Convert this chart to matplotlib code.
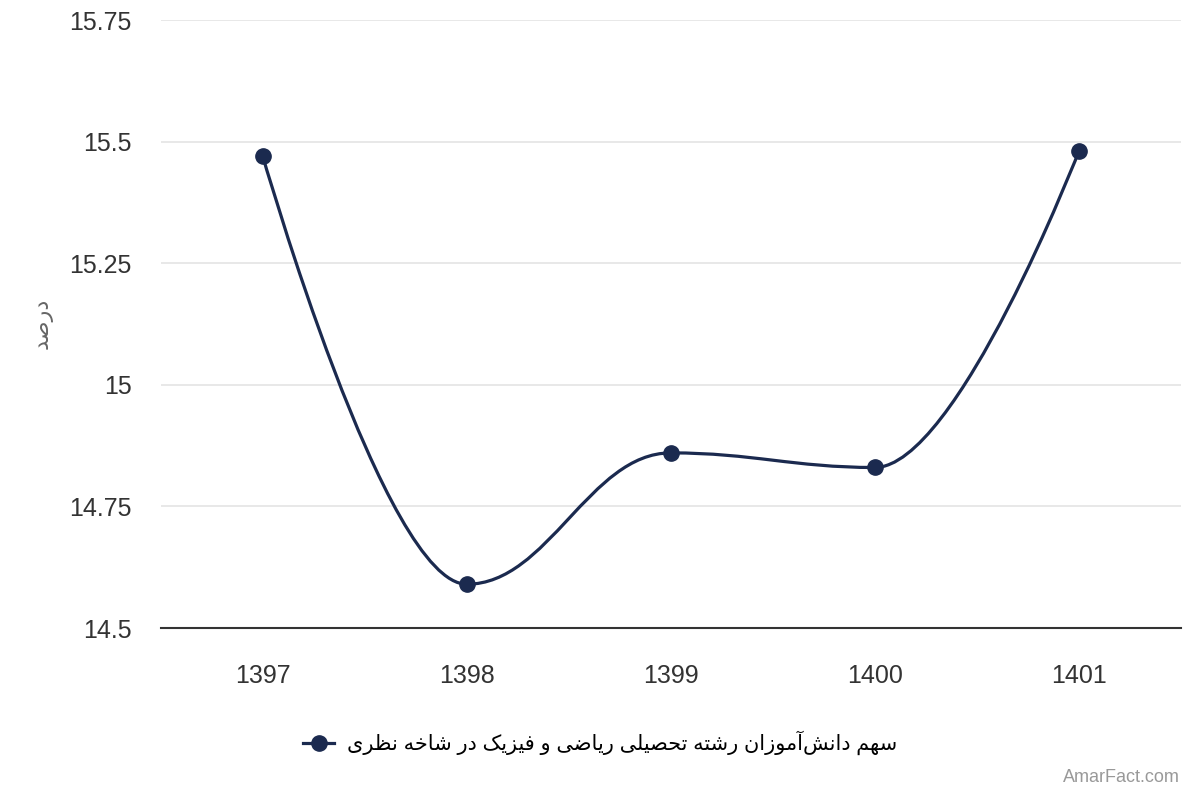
import matplotlib
matplotlib.use("Agg")
import matplotlib.pyplot as plt
from matplotlib.path import Path
from matplotlib.patches import PathPatch
from matplotlib.lines import Line2D

years = ["1397", "1398", "1399", "1400", "1401"]
share = [15.47, 14.59, 14.86, 14.83, 15.48]
y_ticks = [14.5, 14.75, 15, 15.25, 15.5, 15.75]
y_tick_labels = ["14.5", "14.75", "15", "15.25", "15.5", "15.75"]
series_name = "سهم دانش\u200cآموزان رشته تحصیلی ریاضی و فیزیک در شاخه نظری"
y_title = "درصد"
credit = "AmarFact.com"

LINE = "#1b2a4f"

# simple persian shaping: contextual forms + visual (reversed) order
FORMS = {
    "ا": ("\uFE8D", "\uFE8E", None, None),
    "آ": ("\uFE81", "\uFE82", None, None),
    "د": ("\uFEA9", "\uFEAA", None, None),
    "ر": ("\uFEAD", "\uFEAE", None, None),
    "ز": ("\uFEAF", "\uFEB0", None, None),
    "و": ("\uFEED", "\uFEEE", None, None),
    "س": ("\uFEB1", "\uFEB2", "\uFEB3", "\uFEB4"),
    "ش": ("\uFEB5", "\uFEB6", "\uFEB7", "\uFEB8"),
    "ص": ("\uFEB9", "\uFEBA", "\uFEBB", "\uFEBC"),
    "ض": ("\uFEBD", "\uFEBE", "\uFEBF", "\uFEC0"),
    "ظ": ("\uFEC5", "\uFEC6", "\uFEC7", "\uFEC8"),
    "ه": ("\uFEE9", "\uFEEA", "\uFEEB", "\uFEEC"),
    "م": ("\uFEE1", "\uFEE2", "\uFEE3", "\uFEE4"),
    "ن": ("\uFEE5", "\uFEE6", "\uFEE7", "\uFEE8"),
    "ت": ("\uFE95", "\uFE96", "\uFE97", "\uFE98"),
    "ح": ("\uFEA1", "\uFEA2", "\uFEA3", "\uFEA4"),
    "خ": ("\uFEA5", "\uFEA6", "\uFEA7", "\uFEA8"),
    "ل": ("\uFEDD", "\uFEDE", "\uFEDF", "\uFEE0"),
    "ف": ("\uFED1", "\uFED2", "\uFED3", "\uFED4"),
    "ی": ("\uFBFC", "\uFBFD", "\uFBFE", "\uFBFF"),
    "ک": ("\uFB8E", "\uFB8F", "\uFB90", "\uFB91"),
}


def shape(text):
    out = []
    for i, ch in enumerate(text):
        if ch not in FORMS:
            if ch != "\u200c":
                out.append(ch)
            continue
        prev = text[i - 1] if i > 0 else ""
        nxt = text[i + 1] if i + 1 < len(text) else ""
        join_prev = prev in FORMS and FORMS[prev][2] is not None
        join_next = nxt in FORMS and FORMS[ch][2] is not None
        iso, fin, ini, med = FORMS[ch]
        if join_prev and join_next:
            out.append(med)
        elif join_prev:
            out.append(fin)
        elif join_next:
            out.append(ini)
        else:
            out.append(iso)
    return "".join(out)[::-1]


def spline_path(xs, ys):
    # highcharts-like spline
    sm = 1.5
    den = sm + 1
    n = len(xs)
    lc = [None] * n
    rc = [None] * n
    for i in range(1, n - 1):
        px, py = xs[i], ys[i]
        lx, ly = xs[i - 1], ys[i - 1]
        nx, ny = xs[i + 1], ys[i + 1]
        lcx = (sm * px + lx) / den
        lcy = (sm * py + ly) / den
        rcx = (sm * px + nx) / den
        rcy = (sm * py + ny) / den
        corr = (rcy - lcy) * (rcx - px) / (rcx - lcx) + py - rcy
        lcy += corr
        rcy += corr
        if lcy > ly and lcy > py:
            lcy = max(ly, py)
            rcy = 2 * py - lcy
        elif lcy < ly and lcy < py:
            lcy = min(ly, py)
            rcy = 2 * py - lcy
        if rcy > ny and rcy > py:
            rcy = max(ny, py)
            lcy = 2 * py - rcy
        elif rcy < ny and rcy < py:
            rcy = min(ny, py)
            lcy = 2 * py - rcy
        lc[i] = (lcx, lcy)
        rc[i] = (rcx, rcy)
    verts = [(xs[0], ys[0])]
    codes = [Path.MOVETO]
    for i in range(1, n):
        c1 = rc[i - 1] if rc[i - 1] else (xs[i - 1], ys[i - 1])
        c2 = lc[i] if lc[i] else (xs[i], ys[i])
        verts += [c1, c2, (xs[i], ys[i])]
        codes += [Path.CURVE4] * 3
    return Path(verts, codes)


plt.rcParams["font.family"] = ["Liberation Sans", "DejaVu Sans"]

fig = plt.figure(figsize=(12, 8), dpi=100)
ax = fig.add_axes([0.134, 0.215, 0.850, 0.760])

xs = list(range(len(years)))
ax.add_patch(PathPatch(spline_path(xs, share), facecolor="none", edgecolor=LINE,
                       lw=2.3, zorder=3, capstyle="round", joinstyle="round"))
ax.plot(xs, share, "o", color=LINE, markersize=11, zorder=4)

ax.set_xlim(-0.5, len(years) - 0.5)
ax.set_ylim(14.5, 15.75)
ax.set_xticks(xs)
ax.set_xticklabels(years)
ax.set_yticks(y_ticks)
ax.set_yticklabels(y_tick_labels)
ax.tick_params(length=0, labelsize=18, labelcolor="#333333")
ax.tick_params(axis="y", pad=21)
ax.tick_params(axis="x", pad=26)
ax.yaxis.grid(True, color="#e6e6e6", lw=1.3)
ax.set_axisbelow(True)
for s in ["top", "right", "left"]:
    ax.spines[s].set_visible(False)
ax.spines["bottom"].set_color("#333333")
ax.spines["bottom"].set_linewidth(1.5)

fig.text(0.035, 0.596, shape(y_title), rotation=90, ha="center", va="center",
         fontsize=16, color="#666666")

handle = Line2D([], [], color=LINE, lw=2.3, marker="o", markersize=11)
fig.legend([handle], [shape(series_name)], loc="center", bbox_to_anchor=(0.5, 0.071),
           frameon=False, fontsize=15, handlelength=1.5, handletextpad=0.6,
           markerfirst=True)

fig.text(0.983, 0.018, credit, ha="right", va="bottom", fontsize=13, color="#999999")

fig.savefig("out.png", dpi=100)
